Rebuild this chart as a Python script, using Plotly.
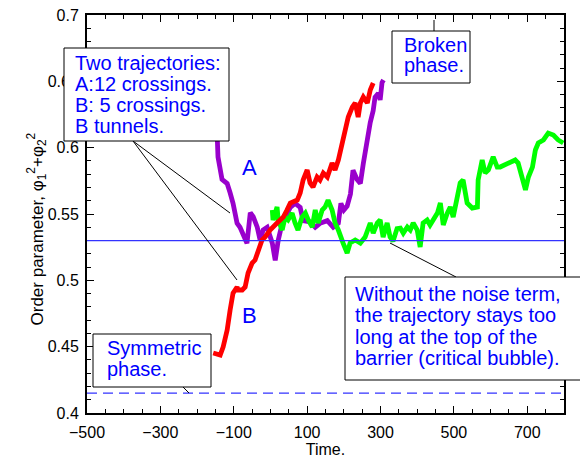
import plotly.graph_objects as go

# ---- data ----
time_A = [-146, -145, -143, -132, -118, -110, -102, -91, -83, -64, -55, -47, -36, -28, -20, -9, 5, 13, 21, 32, 40, 54, 67, 81, 89,
          108, 122, 135, 155, 171, 185, 192, 200, 209, 218, 225, 236, 245, 253, 264, 272, 280, 285, 294, 299, 304, 308]
phi_A = [0.615, 0.604, 0.593, 0.576, 0.573, 0.566, 0.558, 0.543, 0.540, 0.528, 0.551, 0.548, 0.540, 0.530, 0.538, 0.540, 0.528,
         0.515, 0.530, 0.543, 0.548, 0.555, 0.558, 0.555, 0.545, 0.544, 0.540, 0.543, 0.545, 0.540, 0.543, 0.558, 0.553, 0.556,
         0.565, 0.583, 0.576, 0.573, 0.588, 0.608, 0.619, 0.628, 0.638, 0.641, 0.636, 0.649, 0.651]

time_B = [-156, -137, -129, -118, -110, -102, -91, -88, -77, -69, -61, -50, -42, -34, -23, -15, -1, 18, 35, 45, 54, 73, 81, 89,
          100, 108, 116, 127, 135, 144, 155, 168, 176, 185, 195, 204, 212, 223, 231, 239, 245, 253, 264, 272, 280]
phi_B = [0.4452, 0.4437, 0.4497, 0.4625, 0.4776, 0.4904, 0.4950, 0.4927, 0.4927, 0.4950, 0.5055, 0.5130, 0.5153, 0.5228,
         0.5304, 0.5326, 0.5379, 0.5432, 0.5477, 0.5530, 0.5583, 0.5605, 0.5658, 0.5756, 0.5832, 0.5734, 0.5703, 0.5779,
         0.5756, 0.5809, 0.5779, 0.5884, 0.5832, 0.5907, 0.6035, 0.6133, 0.6231, 0.6306, 0.6337, 0.6231, 0.6337, 0.6382,
         0.6337, 0.6435, 0.6487]

time_noiseless = [5, 7, 18, 21, 32, 40, 48, 59, 67, 75, 86, 95, 103, 114, 122, 130, 141, 149, 157, 168, 176, 185, 198, 209,
                  217, 231, 245, 258, 272, 280, 291, 299, 307, 318, 326, 334, 345, 354, 362, 373, 381, 389, 400, 408, 416,
                  427, 435, 444, 455, 463, 471, 482, 490, 498, 509, 517, 525, 536, 550, 564, 566, 577, 585, 594, 607, 618,
                  626, 640, 654, 667, 675, 686, 695, 703, 714, 722, 730, 744, 757, 771, 784, 798]
phi_noiseless = [0.5530, 0.5455, 0.5553, 0.5455, 0.5379, 0.5477, 0.5455, 0.5507, 0.5432, 0.5379, 0.5477, 0.5507, 0.5455,
                 0.5402, 0.5530, 0.5432, 0.5530, 0.5553, 0.5605, 0.5530, 0.5432, 0.5379, 0.5281, 0.5206, 0.5281, 0.5304,
                 0.5281, 0.5326, 0.5432, 0.5356, 0.5432, 0.5455, 0.5326, 0.5432, 0.5326, 0.5295, 0.5390, 0.5394, 0.5356,
                 0.5402, 0.5379, 0.5432, 0.5379, 0.5251, 0.5432, 0.5455, 0.5417, 0.5455, 0.5507, 0.5583, 0.5417, 0.5507,
                 0.5553, 0.5477, 0.5605, 0.5734, 0.5756, 0.5583, 0.5545, 0.5553, 0.5756, 0.5907, 0.5809, 0.5832, 0.5930,
                 0.5854, 0.5854, 0.5869, 0.5884, 0.5907, 0.5884, 0.5779, 0.5681, 0.5779, 0.5854, 0.5982, 0.6035, 0.6058,
                 0.6110, 0.6095, 0.6058, 0.6035]

barrier_top = 0.530
symmetric_level = 0.415

x_range = [-500, 800]
y_range = [0.4, 0.7]

FONT = "Liberation Sans, Arial, Helvetica, sans-serif"
BLUE = "#0000ff"

# plot-area geometry (pixels) used to place the annotation boxes
L, R, T, B = 87, 564, 15, 413
W, H = 580, 458


def px(x):
    return (x - L) / (R - L)


def py(y):
    return (B - y) / (B - T)


fig = go.Figure()
fig.add_trace(go.Scatter(x=time_A, y=phi_A, mode="lines",
                         line=dict(color="#9900cc", width=4.8), hoverinfo="skip"))
fig.add_trace(go.Scatter(x=time_noiseless, y=phi_noiseless, mode="lines",
                         line=dict(color="#00ff00", width=4.8), hoverinfo="skip"))
fig.add_trace(go.Scatter(x=time_B, y=phi_B, mode="lines",
                         line=dict(color="#ff0000", width=4.8), hoverinfo="skip"))

fig.add_hline(y=barrier_top, line=dict(color="#3333ff", width=1.2))
fig.add_hline(y=symmetric_level, line=dict(color="#3333ff", width=1.2, dash="10px,6px"))


def seg(x0, y0, x1, y1):
    fig.add_shape(type="line", x0=px(x0), y0=py(y0), x1=px(x1), y1=py(y1), xref="paper", yref="paper",
                  line=dict(color="black", width=1), layer="above")


def textbox(x0, y0, x1, y1, lines, tx, baseline0, spacing, size=20):
    fig.add_shape(type="rect", x0=px(x0), y0=py(y0), x1=px(x1), y1=py(y1), xref="paper", yref="paper",
                  line=dict(color="black", width=1), fillcolor="white", layer="above")
    for i, t in enumerate(lines):
        base = baseline0 + i * spacing
        fig.add_annotation(x=px(tx), y=py(base - 0.3465 * size), xref="paper", yref="paper",
                           text=t, showarrow=False, xanchor="left", yanchor="middle",
                           font=dict(family=FONT, size=size, color=BLUE))


# pointer lines
seg(133, 141, 230, 213)
seg(133, 141, 237, 280)
seg(434, 20, 434, 31)
seg(183, 387, 189, 393)
seg(390, 243, 456, 277)

textbox(64, 48, 229, 141, ["Two trajectories:", "A:12 crossings.", "B: 5 crossings.", "B tunnels."],
        73, 70, 21)
textbox(392, 31, 470, 83, ["Broken", "phase."], 402, 51.5, 20)
textbox(93, 334, 211, 387, ["Symmetric", "phase."], 105, 355, 21)
textbox(345, 277, 590, 380, ["Without the noise term,", "the trajectory stays too", "long at the top of the",
                             "barrier (critical bubble)."], 353, 300.5, 21.5)

fig.add_annotation(x=px(249), y=py(167), xref="paper", yref="paper", text="A", showarrow=False,
                   font=dict(family=FONT, size=22, color=BLUE))
fig.add_annotation(x=px(249), y=py(330), xref="paper", yref="paper", text="B", showarrow=False,
                   font=dict(family=FONT, size=22, color=BLUE))

# y-axis title placed as rotated text
fig.add_annotation(x=px(22), y=py(229), xref="paper", yref="paper", textangle=-90, showarrow=False,
                   text="Order parameter, φ<sub>1</sub><sup>2</sup>+φ<sub>2</sub><sup>2</sup>",
                   font=dict(family=FONT, size=17, color="black"))

axis_common = dict(showgrid=False, zeroline=False, showline=True, linecolor="black", linewidth=2,
                   mirror="ticks", ticks="inside", ticklen=7, tickwidth=1.2, tickcolor="black",
                   automargin=False,
                   tickfont=dict(family=FONT, size=16, color="black"))

fig.update_xaxes(range=x_range, tick0=-500, dtick=200, tickformat="d",
                 minor=dict(dtick=50, ticks="inside", ticklen=4, tickcolor="black", tickwidth=1),
                 title=dict(text="Time.", font=dict(family=FONT, size=16, color="black"), standoff=4),
                 ticklabelstandoff=4, **axis_common)
fig.update_yaxes(range=y_range, tick0=0.4, dtick=0.05,
                 minor=dict(dtick=0.01, ticks="inside", ticklen=4, tickcolor="black", tickwidth=1),
                 ticklabelstandoff=3, **axis_common)

fig.update_layout(width=W, height=H, margin=dict(l=L, r=W - R, t=T, b=H - B),
                  plot_bgcolor="white", paper_bgcolor="white", showlegend=False)

fig.write_html("out.html", config={"displayModeBar": False},
               post_script="document.body.style.margin='0';")
